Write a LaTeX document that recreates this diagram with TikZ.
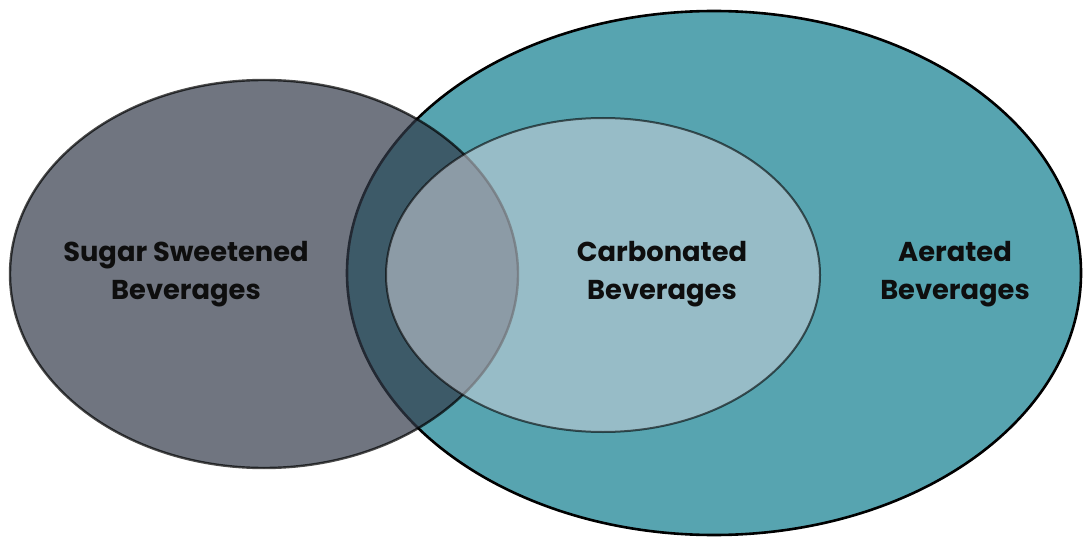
\documentclass[tikz,border=0pt]{standalone}
\usepackage{fontspec}
\setmainfont{Poppins}
\usepackage{xcolor}
\usetikzlibrary{shapes.geometric}

\definecolor{aerateteal}{HTML}{57A4B0}
\definecolor{sugargrey}{HTML}{333B4A}
\definecolor{carbonlight}{HTML}{CDD1DA}
\definecolor{labelblack}{HTML}{0E0E0E}

\begin{document}
\begin{tikzpicture}[x=1pt,y=-1pt,thick,
    set node/.style={ellipse,draw,inner sep=0pt},
    label node/.style={align=center,text=labelblack,font=\bfseries\fontsize{27.3}{38}\selectfont}]
            \useasboundingbox (0,0) rectangle (1083,537);

            % the three sets
            \node[set node,fill=aerateteal,line width=2.6pt,minimum width=734pt,minimum height=524pt] (aerated) at (714,273) {};
            \node[set node,fill=sugargrey,fill opacity=0.7,draw=black,draw opacity=0.7,line width=2.4pt,minimum width=508pt,minimum height=388pt] (sugar) at (264,274) {};
            \node[set node,fill=carbonlight,fill opacity=0.55,draw=black,draw opacity=0.6,line width=2pt,minimum width=434pt,minimum height=314pt] (carbonated) at (603,275) {};

            % labels
            \node[label node] (sugar text) at (186,274) {Sugar Sweetened\\Beverages};
            \node[label node] (carbonated text) at (662,274) {Carbonated\\Beverages};
            \node[label node] (aerated text) at (955,274) {Aerated\\Beverages};
\end{tikzpicture}
\end{document}
